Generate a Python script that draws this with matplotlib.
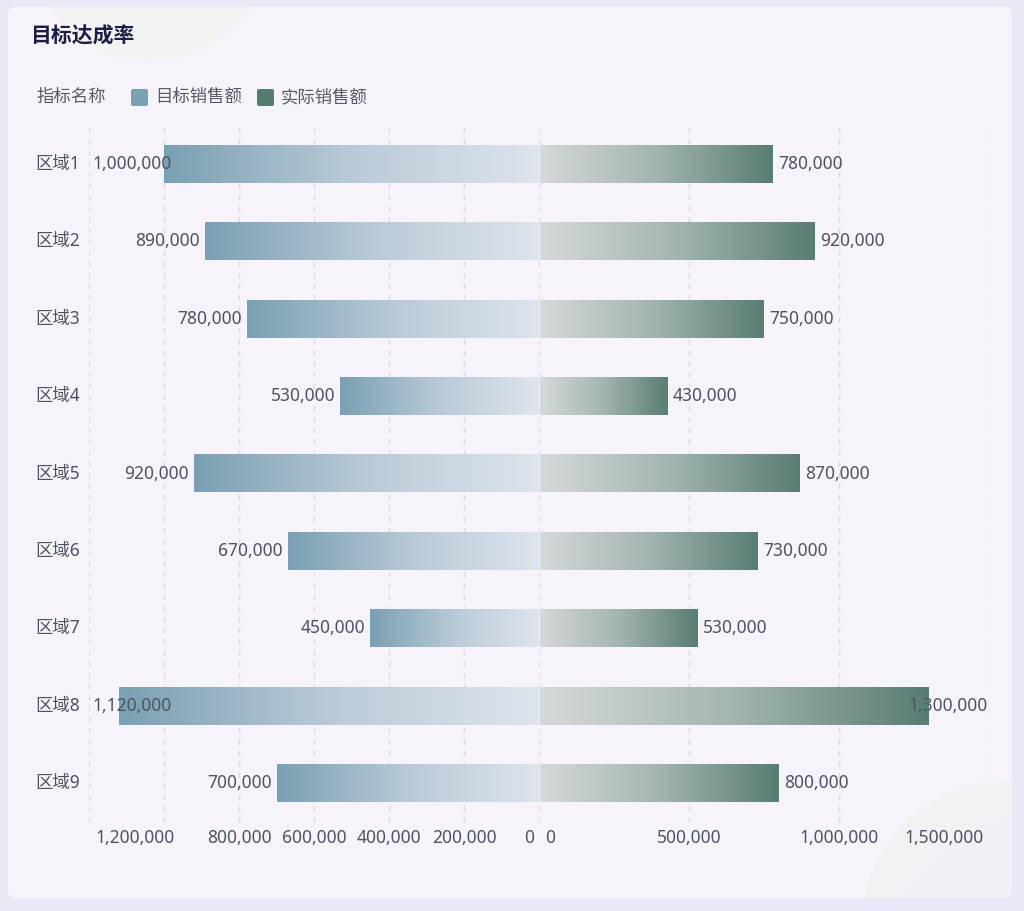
import matplotlib
matplotlib.use("Agg")
import matplotlib.pyplot as plt
import numpy as np
from matplotlib.patches import FancyBboxPatch, Circle
from matplotlib.colors import LinearSegmentedColormap
import matplotlib.transforms as mtransforms

plt.rcParams['font.family'] = ['Noto Sans', 'Noto Sans CJK SC', 'DejaVu Sans']

# ---- data ----
categories = ["区域1", "区域2", "区域3", "区域4", "区域5", "区域6", "区域7", "区域8", "区域9"]
target_sales = [1000000, 890000, 780000, 530000, 920000, 670000, 450000, 1120000, 700000]
actual_sales = [780000, 920000, 750000, 430000, 870000, 730000, 530000, 1300000, 800000]
left_ticks = [0, 200000, 400000, 600000, 800000, 1000000, 1200000]
right_ticks = [0, 500000, 1000000, 1500000]
title = "目标达成率"
legend_title = "指标名称"
series_names = ["目标销售额", "实际销售额"]

W, H = 1024, 911
fig = plt.figure(figsize=(W / 100, H / 100), dpi=100)
fig.patch.set_facecolor("#ece7f6")

FS = 12.5
label_color = "#4e5361"

def fx(px):
    return px / W

def fy(py):
    return 1 - py / H

# background card
bg = fig.add_axes([0, 0, 1, 1])
bg.set_xlim(0, W)
bg.set_ylim(H, 0)
bg.axis("off")
card = FancyBboxPatch((8, 7), 1004, 891, boxstyle="round,pad=0,rounding_size=8",
                      facecolor="#f6f4fa", edgecolor="none", zorder=0)
bg.add_patch(card)
deco = [Circle((150, -60), 122, facecolor="#eef3e6", edgecolor="none", alpha=0.35, zorder=1),
        Circle((1010, 930), 150, facecolor="#edf2ec", edgecolor="none", alpha=0.45, zorder=1),
        Circle((1080, 1030), 230, facecolor="#eef0f6", edgecolor="none", alpha=0.4, zorder=1)]
for c in deco:
    bg.add_patch(c)
    c.set_clip_path(card)

# title
fig.text(fx(30), fy(37), title, fontsize=15, fontweight="bold", color="#1c1e45",
         ha="left", va="center")

# legend
fig.text(fx(36), fy(97), legend_title, fontsize=FS, color="#555a66", ha="left", va="center")
leg_colors = ["#7aa0b4", "#567b6f"]
sw_x = [131, 257]
txt_x = [155, 281]
for i in range(2):
    bg.add_patch(FancyBboxPatch((sw_x[i], 89), 17, 17, boxstyle="round,pad=0,rounding_size=2",
                                facecolor=leg_colors[i], edgecolor="none", zorder=3))
    fig.text(fx(txt_x[i]), fy(97), series_names[i], fontsize=FS, color="#555a66",
             ha="left", va="center")

# axes geometry (pixels)
top_px, bot_px = 125, 822
xl0, xc, xr1 = 89, 539, 989
n = len(categories)
axL = fig.add_axes([fx(xl0), fy(bot_px), fx(xc - xl0), (bot_px - top_px) / H])
axR = fig.add_axes([fx(xc), fy(bot_px), fx(xr1 - xc), (bot_px - top_px) / H])

left_cmap = LinearSegmentedColormap.from_list("l", ["#dde4ee", "#b9cad6", "#7aa0b3"])
right_cmap = LinearSegmentedColormap.from_list("r", ["#d6d9da", "#a3b5b1", "#597d73"])
grad = np.linspace(0, 1, 512).reshape(1, -1)
bh = 0.49

for ax, vals, cmap, xmax, ticks in [(axL, target_sales, left_cmap, 1200000, left_ticks),
                                     (axR, actual_sales, right_cmap, 1500000, right_ticks)]:
    ax.set_facecolor("none")
    for s in ax.spines.values():
        s.set_visible(False)
    ax.tick_params(left=False, bottom=False, labelleft=False, labelbottom=False)
    for t in ticks:
        col = "#c4c2cc" if t == 0 else "#dcdae2"
        ax.axvline(t, color=col, lw=1, ls=(0, (4, 4)), zorder=1)
    for i, v in enumerate(vals):
        ax.imshow(grad, extent=[0, v, i + bh / 2, i - bh / 2], cmap=cmap, aspect="auto",
                  zorder=2, interpolation="nearest")
    ax.set_xlim(0, xmax)
    ax.set_ylim(n - 0.5, -0.5)

axL.invert_xaxis()
axR.axvline(0, color="#f2f4f7", lw=1.2, zorder=3)

fig.canvas.draw()
renderer = fig.canvas.get_renderer()

# value labels
min_left_px = 92
max_right_px = 988
for i, v in enumerate(target_sales):
    t = axL.text(v, i, f"{v:,}", fontsize=FS, color=label_color, ha="right", va="center",
                 zorder=5)
    t.set_transform(axL.transData + mtransforms.ScaledTranslation(-5 / 100, 0, fig.dpi_scale_trans))
    bb = t.get_window_extent(renderer)
    if bb.x0 < min_left_px:
        t.set_transform(axL.transData + mtransforms.ScaledTranslation((min_left_px - bb.x0 - 5) / 100, 0, fig.dpi_scale_trans))
for i, v in enumerate(actual_sales):
    t = axR.text(v, i, f"{v:,}", fontsize=FS, color=label_color, ha="left", va="center",
                 zorder=5)
    t.set_transform(axR.transData + mtransforms.ScaledTranslation(5 / 100, 0, fig.dpi_scale_trans))
    bb = t.get_window_extent(renderer)
    if bb.x1 > max_right_px:
        t.set_transform(axR.transData + mtransforms.ScaledTranslation((max_right_px - bb.x1 + 5) / 100, 0, fig.dpi_scale_trans))

# category labels
for i, c in enumerate(categories):
    y_disp = axL.transData.transform((0, i))[1]
    fig.text(fx(35), y_disp / H, c, fontsize=FS, color=label_color, ha="left", va="center")

# axis tick labels
tick_y = fy(838)
for t in left_ticks:
    if t == 1000000:
        continue
    xp = axL.transData.transform((t, 0))[0]
    if t == max(left_ticks):
        fig.text(fx(xp + 6), tick_y, f"{t:,}", fontsize=FS, color=label_color, ha="left", va="center")
    elif t == 0:
        fig.text(fx(xp - 5), tick_y, "0", fontsize=FS, color=label_color, ha="right", va="center")
    else:
        fig.text(fx(xp), tick_y, f"{t:,}", fontsize=FS, color=label_color, ha="center", va="center")
for t in right_ticks:
    xp = axR.transData.transform((t, 0))[0]
    if t == max(right_ticks):
        fig.text(fx(xp - 5), tick_y, f"{t:,}", fontsize=FS, color=label_color, ha="right", va="center")
    elif t == 0:
        fig.text(fx(xp + 6), tick_y, "0", fontsize=FS, color=label_color, ha="left", va="center")
    else:
        fig.text(fx(xp), tick_y, f"{t:,}", fontsize=FS, color=label_color, ha="center", va="center")

fig.savefig("out.png", dpi=100, facecolor=fig.get_facecolor())
